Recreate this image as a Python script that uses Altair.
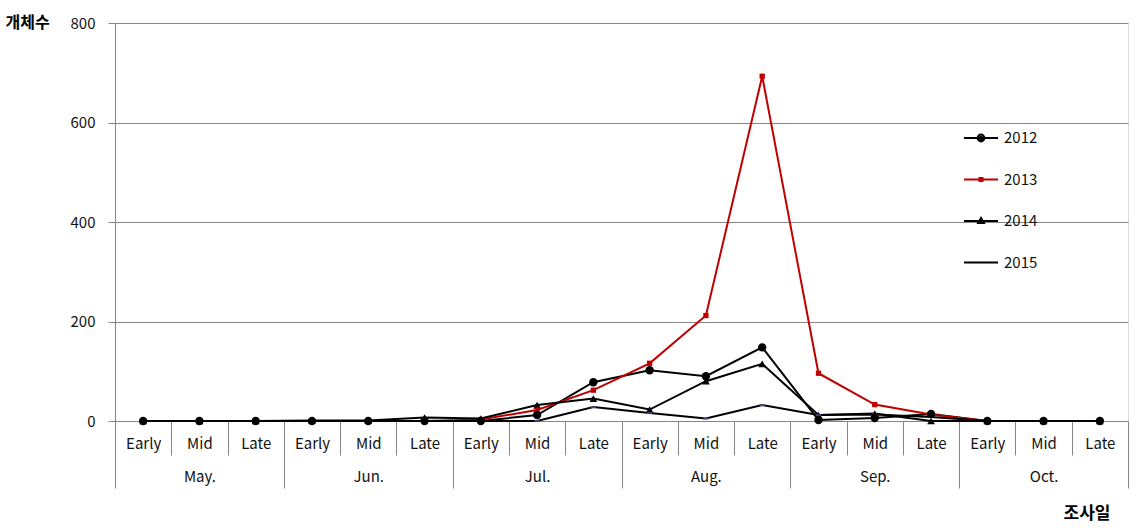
import altair as alt
import pandas as pd

months = ["May.", "Jun.", "Jul.", "Aug.", "Sep.", "Oct."]
periods = ["Early", "Mid", "Late"]
years = ["2012", "2013", "2014", "2015"]

v2012 = [0, 0, 0, 0, 0, 0, 0, 12, 78, 102, 90, 148, 2, 6, 14, 0, 0, 0]
v2013 = [0, 0, 0, 0, 0, 0, 3, 22, 62, 116, 212, 693, 96, 33, 13, 0, 0, None]
v2014 = [0, 0, 0, 1, 1, 7, 5, 32, 45, 23, 80, 115, 12, 15, 0, 0, 0, 0]
v2015 = [0, 0, 0, 0, 0, 0, 0, 0, 28, 16, 5, 32, 12, 13, 8, 0, 0, 0]

line_colors = ["#000000", "#C00000", "#000000", "#000000"]
legend_paths = [
    "M-1,0H1M0.2,0A0.2,0.2,0,1,1,-0.2,0A0.2,0.2,0,1,1,0.2,0M0.08,0A0.08,0.08,0,1,1,-0.08,0A0.08,0.08,0,1,1,0.08,0",
    "M-1,0H1M-0.09,-0.09H0.09V0.09H-0.09Z",
    "M-1,0H1M0,-0.18L0.17,0.12H-0.17Z",
    "M-1,0H1",
]

cats = [f"{m}|{p}" for m in months for p in periods]
rows = []
for y, vals in zip(years, [v2012, v2013, v2014, v2015]):
    for c, v in zip(cats, vals):
        if v is not None:
            rows.append({"year": y, "cat": c, "value": v})
df = pd.DataFrame(rows)
mdf = pd.DataFrame({"month": months})

FONT = "Noto Sans CJK KR"
GRAY = "#868686"

X = alt.X(
    "cat:N",
    scale=alt.Scale(type="band", domain=cats, paddingInner=0, paddingOuter=0),
    bandPosition=0.5,
    axis=alt.Axis(
        title=None,
        orient="bottom",
        labelExpr="split(datum.label, '|')[1]",
        labelAngle=0,
        tickBand="extent",
        tickSize=34,
        tickColor=GRAY,
        domainColor=GRAY,
        labelBaseline="middle",
        labelPadding=-12,
        labelFontSize=15,
        labelColor="#111111",
        labelFont=FONT,
    ),
)
Y = alt.Y(
    "value:Q",
    scale=alt.Scale(domain=[0, 800], nice=False),
    axis=alt.Axis(
        values=[0, 200, 400, 600, 800],
        title="개체수",
        titleAngle=0,
        titleX=-110,
        titleY=-1,
        titleAlign="left",
        titleBaseline="middle",
        titleFontSize=16,
        titleFontWeight="bold",
        titleFont=FONT,
        titleColor="#000000",
        labelFontSize=15,
        labelColor="#111111",
        labelFont=FONT,
        labelPadding=13,
        tickSize=7,
        tickColor=GRAY,
        domainColor=GRAY,
        gridColor=GRAY,
        grid=True,
    ),
)

leg = alt.Legend(
    title=None,
    orient="none",
    legendX=848,
    legendY=97,
    symbolSize=1156,
    symbolStrokeWidth=2,
    labelFontSize=15,
    labelFont=FONT,
    labelColor="#111111",
    labelOffset=5,
    rowPadding=15.5,
    padding=0,
)
color_scale = alt.Scale(domain=years, range=line_colors)

base = alt.Chart(df)

lines = base.mark_line(strokeWidth=2).encode(
    x=X,
    y=Y,
    color=alt.Color("year:N", scale=color_scale, legend=leg),
    detail="year:N",
)

pts2012 = base.transform_filter("datum.year == '2012'").mark_point(
    shape="circle", filled=True, size=70, color="#000000", opacity=1
).encode(x=X, y=Y)
pts2013 = base.transform_filter("datum.year == '2013'").mark_point(
    shape="square", filled=True, size=28, color="#C00000", opacity=1
).encode(x=X, y=Y)
pts2014 = base.transform_filter("datum.year == '2014'").mark_point(
    shape="triangle-up", filled=True, size=60, color="#000000", opacity=1
).encode(x=X, y=Y)
pts2015 = base.transform_filter("datum.year == '2015'").mark_point(
    shape="M-1,-0.3H1V0.3H-1Z", filled=True, size=30, color="#4b4b8c", opacity=1
).encode(x=X, y=Y)

legend_layer = base.transform_filter("datum.value < 0").mark_point(
    filled=False, strokeWidth=2, opacity=1
).encode(
    x=X,
    y=Y,
    color=alt.Color("year:N", scale=color_scale, legend=leg),
    shape=alt.Shape("year:N", scale=alt.Scale(domain=years, range=legend_paths), legend=leg),
)

inner = alt.layer(lines, pts2014, pts2015, pts2013, pts2012, legend_layer)

month_layer = alt.Chart(mdf).mark_point(opacity=0).encode(
    x=alt.X(
        "month:N",
        scale=alt.Scale(type="band", domain=months, paddingInner=0, paddingOuter=0),
        axis=alt.Axis(
            orient="bottom",
            title="조사일",
            titleX=995,
            titleY=92,
            titleAlign="right",
            titleBaseline="middle",
            titleFontSize=17,
            titleFontWeight="bold",
            titleFont=FONT,
            titleColor="#000000",
            labelAngle=0,
            tickBand="extent",
            tickSize=67,
            tickColor=GRAY,
            domain=False,
            labelBaseline="middle",
            labelPadding=-12,
            labelFontSize=15,
            labelColor="#111111",
            labelFont=FONT,
        ),
    )
)

chart = alt.layer(inner, month_layer).resolve_scale(x="independent").properties(
    width=1013,
    height=398,
    padding={"left": 115, "top": 23, "right": 9, "bottom": 111},
    autosize="none",
).configure_view(stroke=None).configure(font=FONT)

chart.save("out.html", embed_options={"renderer": "svg", "actions": False})
